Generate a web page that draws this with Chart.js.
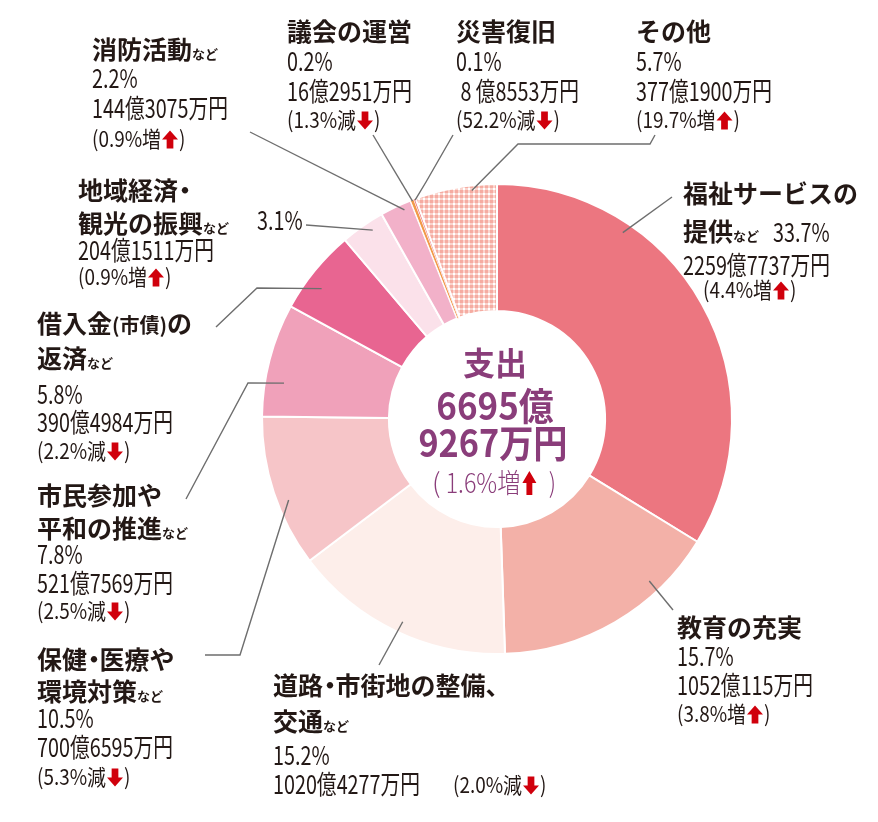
<!DOCTYPE html>
<html lang="ja">
<head>
<meta charset="utf-8">
<script src="https://cdn.jsdelivr.net/npm/chart.js@4.4.1/dist/chart.umd.min.js"></script>
<style>
  html, body { margin: 0; padding: 0; background: #ffffff; }
  #wrap { width: 878px; height: 822px; }
</style>
</head>
<body>
<div id="wrap"><canvas id="c" width="878" height="822"></canvas></div>
<script>
// ---- DATA ----
const categories = ['福祉サービスの提供など', '教育の充実', '道路・市街地の整備、交通など', '保健・医療や環境対策など', '市民参加や平和の推進など', '借入金(市債)の返済など', '地域経済・観光の振興など', '消防活動など', '議会の運営', '災害復旧', 'その他'];
const labelLines = [['福祉サービスの', '提供など'], ['教育の充実'], ['道路・市街地の整備、', '交通など'], ['保健・医療や', '環境対策など'], ['市民参加や', '平和の推進など'], ['借入金(市債)の', '返済など'], ['地域経済・', '観光の振興など'], ['消防活動など'], ['議会の運営'], ['災害復旧'], ['その他']];
// amounts in 万円
const amounts = [22597737, 10520115, 10204277, 7006595, 5217569, 3904984, 2041511, 1443075, 162951, 88553, 3771900];
const shares = [33.7, 15.7, 15.2, 10.5, 7.8, 5.8, 3.1, 2.2, 0.2, 0.1, 5.7];
const changes = [4.4, 3.8, -2.0, -5.3, -2.5, -2.2, 0.9, 0.9, -1.3, -52.2, 19.7];
const centerTitle = '支出';
const totalChange = 1.6;

// ---- styles ----
const FONT = '"Noto Sans CJK JP", "Noto Sans", sans-serif';
const INK = '#231815';
const PURPLE = '#8a3d7a';
const RED = '#d0000c';
const LEADER = '#6e6e6e';

function makePattern() {
  const pc = document.createElement('canvas');
  pc.width = 5; pc.height = 5;
  const p = pc.getContext('2d');
  p.fillStyle = '#ffffff'; p.fillRect(0, 0, 5, 5);
  p.fillStyle = '#fbd4cd'; p.fillRect(0, 0, 5, 3); p.fillRect(0, 0, 3, 5);
  p.fillStyle = '#f5aca2'; p.fillRect(0, 0, 3, 3);
  return document.getElementById('c').getContext('2d').createPattern(pc, 'repeat');
}
const colors = ['#ec7680', '#f3b1a8', '#fdeeea', '#f6c5c8', '#f0a1ba', '#e86591', '#fbe1ea', '#f2b1c9', '#f29a4a', '#e8525c', makePattern()];
const borders = [2, 2, 2, 2, 2, 2, 2, 2, 1, 0.5, 2];

function fmtAmount(v) {
  const oku = Math.floor(v / 10000), man = v % 10000;
  return (oku < 10 ? ' ' + oku + ' ' : String(oku)) + '億' + man + '万円';
}

// ---- rich text helpers ----
function drawArrow(ctx, x, base, w, h, dir) {
  ctx.save();
  ctx.fillStyle = RED;
  const top = base - h * 0.92, bot = base + h * 0.08;
  const sw = w * 0.42, cx = x + w / 2;
  ctx.beginPath();
  if (dir === 'up') {
    const hb = top + h * 0.5;
    ctx.moveTo(cx, top); ctx.lineTo(x + w, hb); ctx.lineTo(cx + sw / 2, hb);
    ctx.lineTo(cx + sw / 2, bot); ctx.lineTo(cx - sw / 2, bot); ctx.lineTo(cx - sw / 2, hb);
    ctx.lineTo(x, hb);
  } else {
    const hb = bot - h * 0.5;
    ctx.moveTo(cx, bot); ctx.lineTo(x + w, hb); ctx.lineTo(cx + sw / 2, hb);
    ctx.lineTo(cx + sw / 2, top); ctx.lineTo(cx - sw / 2, top); ctx.lineTo(cx - sw / 2, hb);
    ctx.lineTo(x, hb);
  }
  ctx.closePath(); ctx.fill();
  ctx.restore();
}
function drawSegs(ctx, x, yc, segs, align) {
  const main = Math.max(...segs.map(s => s.size || 0));
  const base = yc + 0.37 * main;
  let total = 0;
  const widths = segs.map(s => {
    if (s.arrow) return s.aw + (s.gap || 2) * 2;
    ctx.font = `${s.weight || 400} ${s.size}px ${FONT}`;
    return ctx.measureText(s.t).width * (s.sx || 1) + (s.dx || 0);
  });
  widths.forEach(w => total += w);
  let cx = align === 'center' ? x - total / 2 : x;
  segs.forEach((s, k) => {
    if (s.arrow) {
      drawArrow(ctx, cx + (s.gap || 2), base, s.aw, s.ah, s.arrow);
    } else {
      ctx.save();
      ctx.font = `${s.weight || 400} ${s.size}px ${FONT}`;
      ctx.fillStyle = s.color || INK;
      ctx.textBaseline = 'alphabetic';
      ctx.textAlign = 'left';
      ctx.translate(cx + (s.dx || 0), base);
      ctx.scale(s.sx || 1, 1);
      ctx.fillText(s.t, 0, 0);
      ctx.restore();
    }
    cx += widths[k];
  });
  return cx;
}
function headingSegs(line) {
  const segs = [];
  let rest = line, tail = null;
  if (rest.endsWith('など')) { rest = rest.slice(0, -2); tail = 'など'; }
  const push = (t, size) => {
    // narrow middle dot as in the reference typesetting
    t.split(/(・)/).filter(Boolean).forEach(p => {
      if (p === '・') segs.push({ t: p, size, weight: 700, sx: 1, dx: -size * 0.25 });
      else segs.push({ t: p, size, weight: 700 });
    });
  };
  const m = rest.match(/^(.*?)(\(.*?\))(.*)$/);
  if (m) {
    if (m[1]) push(m[1], 25);
    segs.push({ t: m[2], size: 20, weight: 700 });
    if (m[3]) push(m[3], 25);
  } else {
    push(rest, 25);
  }
  // dot: shift glyph left and shrink advance
  segs.forEach(s => { if (s.t === '・') { s.dx = -s.size * 0.22; s.shrink = true; } });
  if (tail) segs.push({ t: tail, size: 13, weight: 700 });
  return segs;
}
function numSegs(text) { return [{ t: text, size: 26, weight: 400, sx: 0.76 }]; }
function changeSegs(v) {
  return [
    { t: '(' + Math.abs(v).toFixed(1) + '%' + (v >= 0 ? '増' : '減'), size: 22, weight: 400, sx: 0.86 },
    { arrow: v >= 0 ? 'up' : 'down', aw: 16, ah: 18, gap: 1 },
    { t: ')', size: 22, weight: 400, sx: 0.86 }
  ];
}

// ---- label layout (positions only) ----
const layout = [
  { x: 683, hy: [194, 232], pct: [773, 232], amt: [683, 265], chg: [703, 290] },
  { x: 677, hy: [628], pct: [677, 656], amt: [677, 685], chg: [677, 714] },
  { x: 273, hy: [686, 722], pct: [273, 755], amt: [273, 784], chg: [453, 785] },
  { x: 37, hy: [660, 692], pct: [37, 718], amt: [37, 747], chg: [37, 777] },
  { x: 37, hy: [496, 529], pct: [37, 554], amt: [37, 583], chg: [37, 611] },
  { x: 37, hy: [324, 359], pct: [37, 394], amt: [37, 422], chg: [37, 451] },
  { x: 78, hy: [191, 224], pct: [257, 220], amt: [78, 250], chg: [78, 277] },
  { x: 92, hy: [50], pct: [92, 78], amt: [92, 108], chg: [92, 139] },
  { x: 287, hy: [32], pct: [287, 61], amt: [287, 91], chg: [287, 120] },
  { x: 456, hy: [32], pct: [456, 61], amt: [456, 91], chg: [456, 120] },
  { x: 636, hy: [32], pct: [636, 61], amt: [636, 91], chg: [636, 120] }
];
// leader lines: label-side points, then anchor inside slice i (t = fraction of slice angle, rf = radial fraction)
const leaders = [
  { i: 0, t: 0.28, rf: 0.92, pts: [[672, 197]] },
  { i: 1, t: 0.27, rf: 0.9, pts: [[673, 610]] },
  { i: 2, t: 0.49, rf: 0.91, pts: [[379, 665]] },
  { i: 3, t: 0.42, rf: 0.91, pts: [[205, 655], [240, 655]] },
  { i: 4, t: 0.32, rf: 0.85, pts: [[186, 499], [248, 383]] },
  { i: 5, t: 0.38, rf: 0.87, pts: [[216, 327], [257, 288]] },
  { i: 6, t: 0.64, rf: 0.93, pts: [[306, 225]] },
  { i: 7, t: 0.71, rf: 0.95, pts: [[250, 132]] },
  { i: 8, t: 0.5, rf: 0.99, pts: [[373, 135]] },
  { i: 9, t: 0.5, rf: 0.99, pts: [[453, 135], [426, 182]] },
  { i: 10, t: 0.69, rf: 0.96, pts: [[655, 135], [650, 144], [518, 144]] }
];

const annotate = {
  id: 'annotate',
  afterDatasetsDraw(chart) {
    const ctx = chart.ctx;
    const meta = chart.getDatasetMeta(0);
    ctx.save();
    ctx.strokeStyle = LEADER; ctx.lineWidth = 1.4; ctx.lineJoin = 'miter';
    leaders.forEach(L => {
      const a = meta.data[L.i].getProps(['x', 'y', 'startAngle', 'endAngle', 'innerRadius', 'outerRadius'], true);
      const ang = a.startAngle + L.t * (a.endAngle - a.startAngle);
      const r = a.innerRadius + L.rf * (a.outerRadius - a.innerRadius);
      ctx.beginPath();
      ctx.moveTo(L.pts[0][0], L.pts[0][1]);
      for (let k = 1; k < L.pts.length; k++) ctx.lineTo(L.pts[k][0], L.pts[k][1]);
      ctx.lineTo(a.x + r * Math.cos(ang), a.y + r * Math.sin(ang));
      ctx.stroke();
    });
    ctx.restore();
    categories.forEach((c, i) => {
      const Lo = layout[i];
      labelLines[i].forEach((ln, k) => {
        const segs = headingSegs(ln);
        // the narrow dot: its advance is reduced by twice its left shift
        segs.forEach(s => { if (s.shrink) s.dx = -s.size * 0.22; });
        drawSegsNarrow(ctx, Lo.x, Lo.hy[k], segs);
      });
      drawSegs(ctx, Lo.pct[0], Lo.pct[1], numSegs(shares[i].toFixed(1) + '%'));
      drawSegs(ctx, Lo.amt[0], Lo.amt[1], numSegs(fmtAmount(amounts[i])));
      drawSegs(ctx, Lo.chg[0], Lo.chg[1], changeSegs(changes[i]));
    });
    const a0 = meta.data[0];
    const cx = a0.x, cy = a0.y;
    const total = amounts.reduce((s, v) => s + v, 0);
    const oku = Math.floor(total / 10000), man = total % 10000;
    drawSegs(ctx, cx - 2, cy - 56, [{ t: centerTitle, size: 32, weight: 700, color: PURPLE }], 'center');
    drawSegs(ctx, cx - 2, cy - 13, [{ t: oku + '億', size: 38, weight: 700, color: PURPLE, sx: 0.92 }], 'center');
    drawSegs(ctx, cx - 4, cy + 24, [{ t: man + '万円', size: 38, weight: 700, color: PURPLE, sx: 0.9 }], 'center');
    drawSegs(ctx, cx - 3, cy + 64, [
      { t: '(', size: 27, weight: 300, color: PURPLE, sx: 1 },
      { t: ' ' + totalChange.toFixed(1) + '%' + (totalChange >= 0 ? '増' : '減'), size: 27, weight: 300, color: PURPLE, sx: 0.86 },
      { arrow: totalChange >= 0 ? 'up' : 'down', aw: 14, ah: 24, gap: 2 },
      { t: '  )', size: 27, weight: 300, color: PURPLE, sx: 0.86 }
    ], 'center');
  }
};
// heading renderer: like drawSegs, but a narrow dot takes half its normal advance
function drawSegsNarrow(ctx, x, yc, segs) {
  const main = Math.max(...segs.map(s => s.size || 0));
  const base = yc + 0.37 * main;
  let cx = x;
  segs.forEach(s => {
    ctx.save();
    ctx.font = `${s.weight || 400} ${s.size}px ${FONT}`;
    ctx.fillStyle = s.color || INK;
    ctx.textBaseline = 'alphabetic';
    ctx.textAlign = 'left';
    const w = ctx.measureText(s.t).width * (s.sx || 1);
    ctx.translate(cx + (s.shrink ? s.dx : 0), base);
    ctx.scale(s.sx || 1, 1);
    ctx.fillText(s.t, 0, 0);
    ctx.restore();
    cx += s.shrink ? w * 0.5 : w;
  });
}

new Chart(document.getElementById('c'), {
  type: 'doughnut',
  data: {
    labels: categories,
    datasets: [{
      data: amounts,
      backgroundColor: colors,
      borderColor: '#ffffff',
      borderWidth: borders,
      hoverOffset: 0
    }]
  },
  options: {
    responsive: false,
    devicePixelRatio: 1,
    animation: false,
    cutout: '46%',
    layout: { padding: { left: 261, right: 145, top: 183, bottom: 167 } },
    plugins: { legend: { display: false }, tooltip: { enabled: false } },
    events: []
  },
  plugins: [annotate]
});
</script>
</body>
</html>
